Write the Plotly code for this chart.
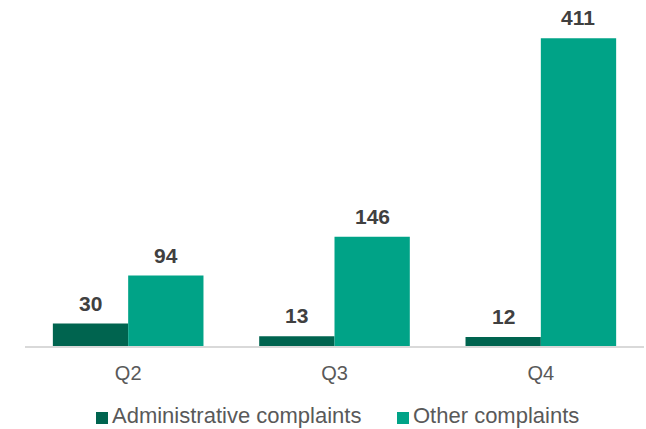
import plotly.graph_objects as go

quarters = ["Q2", "Q3", "Q4"]
admin_complaints = [30, 13, 12]
other_complaints = [94, 146, 411]
series_names = ["Administrative complaints", "Other complaints"]
series_colors = ["#00644f", "#00a387"]

FONT = "Liberation Sans, Arial, sans-serif"
W, H = 646, 429
M = dict(l=25, r=2, t=9, b=83)
plot_w = W - M["l"] - M["r"]
plot_h = H - M["t"] - M["b"]


def px_x(x):
    return (x - M["l"]) / plot_w


def px_y(y):
    return (H - M["b"] - y) / plot_h


fig = go.Figure()
for name, color, vals in zip(series_names, series_colors, [admin_complaints, other_complaints]):
    fig.add_trace(go.Bar(x=quarters, y=vals, name=name,
                         marker=dict(color=color, line=dict(width=0)),
                         showlegend=False))

# value labels above each bar, offset to sit over the matching bar of the group
annotations = []
for offset, vals in zip([-0.1825, 0.1825], [admin_complaints, other_complaints]):
    for i, v in enumerate(vals):
        annotations.append(dict(
            x=i + offset, y=v, xref="x", yref="y", text=f"<b>{v}</b>",
            showarrow=False, yanchor="bottom", yshift=7,
            font=dict(family=FONT, size=21, color="#404040")))

# legend row: coloured squares followed by the series names
shapes = []
for left, name, color in zip([96, 397], series_names, series_colors):
    shapes.append(dict(type="rect", xref="paper", yref="paper",
                       x0=px_x(left), x1=px_x(left + 12),
                       y0=px_y(424), y1=px_y(412),
                       fillcolor=color, line=dict(width=0)))
    annotations.append(dict(
        x=px_x(left + 14), y=px_y(415), xref="paper", yref="paper",
        xanchor="left", yanchor="middle", showarrow=False,
        text=name, font=dict(family=FONT, size=22, color="#595959")))

fig.update_layout(
    width=W, height=H, margin=M,
    paper_bgcolor="white", plot_bgcolor="white",
    barmode="group", bargap=0.27, bargroupgap=0,
    font=dict(family=FONT, color="#595959"),
    showlegend=False,
    annotations=annotations,
    shapes=shapes,
)
fig.update_xaxes(showline=True, linecolor="#d9d9d9", linewidth=1.5, ticks="",
                 tickfont=dict(family=FONT, size=20, color="#595959"),
                 ticklabelstandoff=8, showgrid=False, automargin=False)
fig.update_yaxes(range=[0, 450], visible=False, showgrid=False, zeroline=False)

fig.write_html("out.html")
